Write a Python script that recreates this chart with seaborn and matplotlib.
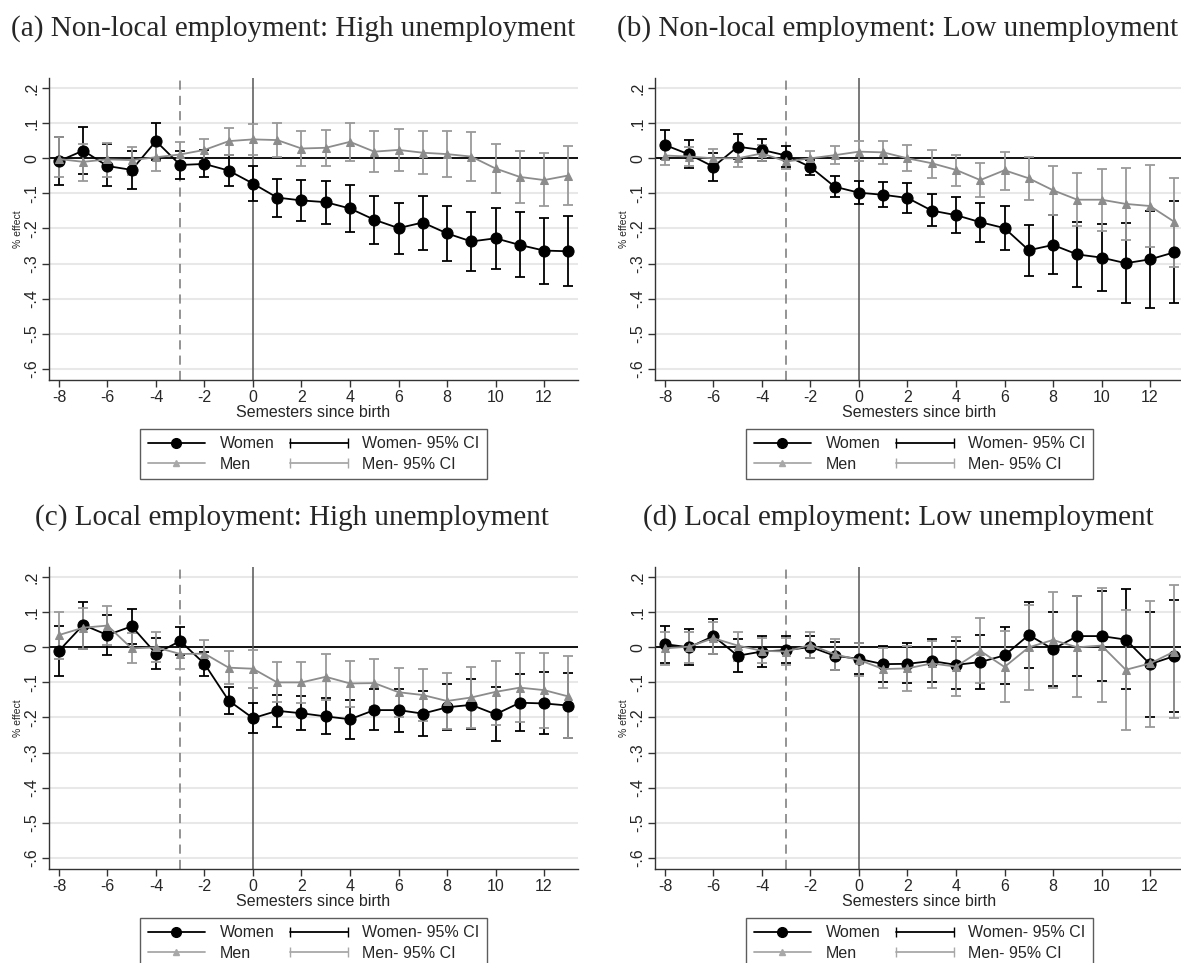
import matplotlib
matplotlib.use("Agg")
import numpy as np
import pandas as pd
import matplotlib.pyplot as plt
import seaborn as sns
from matplotlib.lines import Line2D
from matplotlib.legend_handler import HandlerLine2D
from matplotlib.ticker import FuncFormatter

# =========================
# DATA
# =========================
semesters = list(range(-8, 14))

# (a) Non-local employment: High unemployment
women_a = [-0.008, 0.022, -0.022, -0.033, 0.049, -0.019, -0.016, -0.035, -0.072, -0.112, -0.120,
           -0.125, -0.143, -0.175, -0.199, -0.183, -0.214, -0.237, -0.228, -0.247, -0.263, -0.265]
women_a_hi = [0.062, 0.090, 0.040, 0.022, 0.101, 0.022, 0.024, 0.010, -0.022, -0.058, -0.063,
              -0.064, -0.076, -0.106, -0.126, -0.108, -0.136, -0.154, -0.141, -0.154, -0.169, -0.165]
women_a_lo = [-0.076, -0.045, -0.080, -0.087, -0.005, -0.059, -0.054, -0.080, -0.121, -0.166, -0.178,
              -0.187, -0.209, -0.245, -0.273, -0.260, -0.293, -0.320, -0.315, -0.337, -0.357, -0.365]
men_a = [-0.002, -0.010, -0.003, -0.005, 0.003, 0.011, 0.024, 0.049, 0.054, 0.052, 0.028,
         0.030, 0.047, 0.019, 0.024, 0.016, 0.012, 0.005, -0.029, -0.053, -0.062, -0.049]
men_a_hi = [0.060, 0.041, 0.045, 0.033, 0.047, 0.046, 0.054, 0.087, 0.098, 0.100, 0.078,
            0.082, 0.102, 0.077, 0.083, 0.078, 0.078, 0.074, 0.040, 0.020, 0.015, 0.034]
men_a_lo = [-0.054, -0.064, -0.052, -0.047, -0.036, -0.024, -0.007, 0.010, 0.009, 0.005, -0.022,
            -0.022, -0.008, -0.038, -0.036, -0.045, -0.052, -0.064, -0.100, -0.128, -0.137, -0.133]

# (b) Non-local employment: Low unemployment
women_b = [0.038, 0.011, -0.024, 0.033, 0.024, 0.008, -0.025, -0.081, -0.098, -0.104, -0.113,
           -0.149, -0.162, -0.182, -0.199, -0.262, -0.247, -0.274, -0.283, -0.299, -0.288, -0.268]
women_b_hi = [0.082, 0.052, 0.014, 0.070, 0.056, 0.035, -0.005, -0.050, -0.066, -0.068, -0.070,
              -0.103, -0.111, -0.126, -0.136, -0.190, -0.163, -0.181, -0.186, -0.184, -0.150, -0.123]
women_b_lo = [-0.003, -0.028, -0.064, -0.002, -0.007, -0.026, -0.047, -0.109, -0.130, -0.140, -0.155,
              -0.194, -0.213, -0.239, -0.261, -0.335, -0.330, -0.366, -0.379, -0.413, -0.427, -0.412]
men_b = [0.008, 0.005, 0.000, 0.000, 0.014, -0.009, 0.000, 0.009, 0.019, 0.017, 0.000,
         -0.014, -0.033, -0.062, -0.034, -0.057, -0.091, -0.118, -0.118, -0.130, -0.136, -0.181]
men_b_hi = [0.030, 0.031, 0.026, 0.025, 0.037, 0.013, 0.021, 0.035, 0.048, 0.048, 0.037,
            0.025, 0.010, -0.014, 0.019, 0.005, -0.021, -0.043, -0.031, -0.029, -0.019, -0.055]
men_b_lo = [-0.018, -0.022, -0.026, -0.024, -0.008, -0.031, -0.022, -0.016, -0.009, -0.015, -0.036,
            -0.055, -0.078, -0.110, -0.089, -0.118, -0.162, -0.193, -0.208, -0.232, -0.254, -0.310]

# (c) Local employment: High unemployment
women_c = [-0.010, 0.064, 0.035, 0.060, -0.018, 0.018, -0.047, -0.152, -0.202, -0.181, -0.188,
           -0.197, -0.205, -0.179, -0.179, -0.189, -0.171, -0.164, -0.191, -0.158, -0.160, -0.166]
women_c_hi = [0.062, 0.130, 0.091, 0.110, 0.026, 0.059, -0.014, -0.112, -0.159, -0.135, -0.139,
              -0.145, -0.150, -0.120, -0.118, -0.125, -0.104, -0.091, -0.114, -0.076, -0.070, -0.073]
women_c_lo = [-0.082, -0.004, -0.021, 0.010, -0.062, -0.023, -0.081, -0.190, -0.244, -0.228, -0.236,
              -0.248, -0.260, -0.237, -0.240, -0.252, -0.237, -0.233, -0.266, -0.239, -0.248, -0.258]
men_c = [0.035, 0.056, 0.062, -0.003, 0.000, -0.019, -0.018, -0.058, -0.061, -0.100, -0.100,
         -0.084, -0.103, -0.102, -0.128, -0.136, -0.153, -0.143, -0.127, -0.115, -0.122, -0.140]
men_c_hi = [0.101, 0.112, 0.119, 0.042, 0.044, 0.022, 0.022, -0.010, -0.008, -0.043, -0.041,
            -0.020, -0.039, -0.033, -0.058, -0.061, -0.072, -0.057, -0.039, -0.016, -0.017, -0.024]
men_c_lo = [-0.034, -0.004, 0.007, -0.045, -0.043, -0.062, -0.058, -0.105, -0.115, -0.156, -0.160,
            -0.149, -0.169, -0.170, -0.200, -0.211, -0.233, -0.229, -0.222, -0.214, -0.230, -0.259]

# (d) Local employment: Low unemployment
women_d = [0.009, 0.000, 0.032, -0.024, -0.012, -0.008, 0.001, -0.024, -0.033, -0.048, -0.047,
           -0.039, -0.050, -0.042, -0.023, 0.035, -0.005, 0.032, 0.032, 0.022, -0.048, -0.025]
women_d_hi = [0.062, 0.052, 0.082, 0.023, 0.031, 0.032, 0.033, 0.016, 0.013, 0.004, 0.011,
              0.024, 0.018, 0.035, 0.058, 0.130, 0.101, 0.147, 0.160, 0.165, 0.100, 0.134]
women_d_lo = [-0.045, -0.050, -0.020, -0.069, -0.055, -0.046, -0.031, -0.064, -0.077, -0.100, -0.102,
              -0.100, -0.120, -0.118, -0.105, -0.059, -0.109, -0.082, -0.096, -0.119, -0.199, -0.183]
men_d = [-0.003, 0.002, 0.026, 0.005, -0.010, -0.012, 0.007, -0.020, -0.036, -0.062, -0.060,
         -0.046, -0.055, -0.010, -0.056, 0.000, 0.021, 0.000, 0.005, -0.064, -0.046, -0.012]
men_d_hi = [0.045, 0.043, 0.073, 0.045, 0.026, 0.027, 0.045, 0.025, 0.011, -0.003, 0.004,
            0.018, 0.030, 0.084, 0.046, 0.120, 0.158, 0.147, 0.168, 0.106, 0.133, 0.179]
men_d_lo = [-0.050, -0.045, -0.020, -0.039, -0.046, -0.050, -0.031, -0.064, -0.083, -0.117, -0.124,
            -0.117, -0.140, -0.102, -0.157, -0.121, -0.115, -0.142, -0.156, -0.235, -0.228, -0.202]

titles = ["(a) Non-local employment: High unemployment",
          "(b) Non-local employment: Low unemployment",
          "(c) Local employment: High unemployment",
          "(d) Local employment: Low unemployment"]
y_ticks = [0.2, 0.1, 0.0, -0.1, -0.2, -0.3, -0.4, -0.5, -0.6]
x_ticks = list(range(-8, 13, 2))
legend_labels = ["Women", "Men", "Women- 95% CI", "Men- 95% CI"]

panels = [
    (women_a, women_a_lo, women_a_hi, men_a, men_a_lo, men_a_hi),
    (women_b, women_b_lo, women_b_hi, men_b, men_b_lo, men_b_hi),
    (women_c, women_c_lo, women_c_hi, men_c, men_c_lo, men_c_hi),
    (women_d, women_d_lo, women_d_hi, men_d, men_d_lo, men_d_hi),
]

# =========================
# STYLE
# =========================
sns.set_style("white")
plt.rcParams["font.family"] = ["Liberation Sans", "DejaVu Sans"]
plt.rcParams["axes.unicode_minus"] = False

WOMEN_COL = "black"
MEN_COL = "#8c8c8c"
MEN_CI_COL = "#9a9a9a"


def stata_fmt(v, pos):
    s = f"{v:.1f}"
    if s in ("0.0", "-0.0"):
        return "0"
    return s.replace("0.", ".")


fig = plt.figure(figsize=(11.81, 9.63), dpi=100)
W, H = 1181, 963

# axes boxes in pixels: left, top, width, height
boxes = [(49, 78, 529, 302), (655, 78, 529, 302),
         (49, 567, 529, 302), (655, 567, 529, 302)]
title_pos = [(293, 29), (898, 29), (292, 518), (898, 518)]

for i, (box, data) in enumerate(zip(boxes, panels)):
    l, t, w, h = box
    ax = fig.add_axes([l / W, 1 - (t + h) / H, w / W, h / H])
    women, w_lo, w_hi, men, m_lo, m_hi = [np.array(d) for d in data]
    x = np.array(semesters)

    df = pd.DataFrame({"semester": x, "women": women, "men": men})

    # reference lines
    for yv in y_ticks:
        ax.axhline(yv, color="#e8e8e8", lw=1.5, zorder=0)
    ax.axhline(0, color="black", lw=1.3, zorder=1)
    ax.axvline(0, color="#555555", lw=1.1, zorder=1)
    ax.axvline(-3, color="#777777", lw=1.1, ls=(0, (6, 4)), zorder=1)

    # confidence intervals
    ax.errorbar(x, (w_lo + w_hi) / 2, yerr=(w_hi - w_lo) / 2, fmt="none",
                ecolor=WOMEN_COL, elinewidth=1.3, capsize=3.5, capthick=1.3, zorder=3)
    ax.errorbar(x, (m_lo + m_hi) / 2, yerr=(m_hi - m_lo) / 2, fmt="none",
                ecolor=MEN_CI_COL, elinewidth=1.3, capsize=3.5, capthick=1.3, zorder=3)

    # point estimates
    sns.lineplot(data=df, x="semester", y="women", ax=ax, color=WOMEN_COL,
                 marker="o", markersize=8, markeredgecolor=WOMEN_COL, lw=1.3,
                 legend=False, zorder=4)
    sns.lineplot(data=df, x="semester", y="men", ax=ax, color=MEN_COL,
                 marker="^", markersize=6, markeredgecolor=MEN_COL, lw=1.3,
                 legend=False, zorder=5)

    ax.set_xlim(-8.41, 13.4)
    ax.set_ylim(-0.632, 0.229)
    ax.set_xticks(x_ticks)
    ax.set_yticks(y_ticks)
    ax.yaxis.set_major_formatter(FuncFormatter(stata_fmt))
    ax.grid(False)
    for side in ["top", "right"]:
        ax.spines[side].set_visible(False)
    for side in ["left", "bottom"]:
        ax.spines[side].set_color("#333333")
        ax.spines[side].set_linewidth(1.0)
    ax.tick_params(direction="out", length=5, width=1, color="#333333",
                   labelsize=11.5, pad=2, left=True, bottom=True)
    plt.setp(ax.get_yticklabels(), rotation=90, va="center")

    ax.set_xlabel("Semesters since birth", fontsize=11.5, labelpad=0)
    ax.set_ylabel("% effect", fontsize=7.5, labelpad=1)

    # legend
    h_w = Line2D([], [], color=WOMEN_COL, marker="o", markersize=7, lw=1.3)
    h_m = Line2D([], [], color="#a8a8a8", marker="^", markersize=5, lw=1.3)
    h_wci = Line2D([], [], color=WOMEN_COL, marker="|", markersize=7, lw=1.3)
    h_mci = Line2D([], [], color="#a8a8a8", marker="|", markersize=7, lw=1.3)
    leg = ax.legend([h_w, h_m, h_wci, h_mci], legend_labels, ncol=2,
                    loc="upper center", bbox_to_anchor=(0.5, -0.163),
                    fontsize=11.5, frameon=True, fancybox=False, handlelength=3.6,
                    handletextpad=0.9, columnspacing=1.0, labelspacing=0.35,
                    borderpad=0.45, borderaxespad=0,
                    handler_map={h_w: HandlerLine2D(numpoints=1),
                                 h_m: HandlerLine2D(numpoints=1),
                                 h_wci: HandlerLine2D(numpoints=2, marker_pad=0),
                                 h_mci: HandlerLine2D(numpoints=2, marker_pad=0)})
    leg.get_frame().set_edgecolor("#333333")
    leg.get_frame().set_linewidth(1.0)

    tx, ty = title_pos[i]
    fig.text(tx / W, 1 - ty / H, titles[i], ha="center", va="center",
             fontsize=21, family=["Liberation Serif", "DejaVu Serif"])

fig.savefig("out.png", dpi=100)
